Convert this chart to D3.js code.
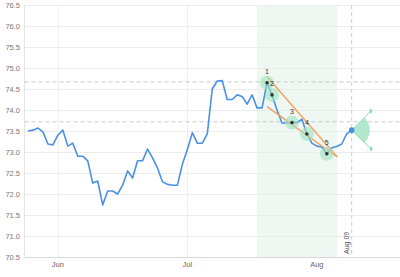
<!DOCTYPE html>
<html><head><meta charset="utf-8">
<script src="https://cdn.jsdelivr.net/npm/d3@7"></script>
<style>html,body{margin:0;padding:0;background:#fff;}svg{display:block;font-family:"Liberation Sans",Arial,sans-serif;}</style>
</head><body>
<svg id="c" width="400" height="277"></svg>
<script>
// ---- data ----
const values = [73.50,73.52,73.57,73.48,73.19,73.17,73.40,73.52,73.14,73.21,
72.90,72.90,72.79,72.26,72.31,71.74,72.07,72.07,72.00,72.21,
72.55,72.38,72.79,72.79,73.07,72.86,72.62,72.29,72.23,72.21,
72.21,72.71,73.06,73.46,73.21,73.21,73.43,74.50,74.69,74.70,
74.25,74.25,74.36,74.32,74.14,74.36,74.05,74.05,74.65,74.36,
74.00,73.69,73.69,73.70,73.70,73.78,73.43,73.21,73.14,73.12,
72.96,73.10,73.13,73.19,73.43,73.52];
const xTickIndex = [6, 32, 58];
const xTickLabels = ["Jun", "Jul", "Aug"];
const yTicks = [70.5,71.0,71.5,72.0,72.5,73.0,73.5,74.0,74.5,75.0,75.5,76.0,76.5];
const markerIndex = [48, 49, 53, 56, 60];
const markerLabels = ["1", "2", "3", "4", "5"];
const levelLines = [74.67, 73.72];
const bandRange = [46, 62.1];
const plotLineIndex = 65;
const plotLineLabel = "Aug 09";
const upperTrend = [[48, 74.79], [62.1, 72.88]];
const lowerTrend = [[48, 74.08], [62.1, 72.88]];

// ---- layout ----
const L = 24.5, R = 400, T = 5, B = 257;
const svg = d3.select("#c");
const x = d3.scaleLinear().domain([0, values.length - 1]).range([28, 351.7]);
const y = d3.scaleLinear().domain([70.5, 76.5]).range([B, T]);

// band
svg.append("rect").attr("x", x(bandRange[0])).attr("y", T)
  .attr("width", x(bandRange[1]) - x(bandRange[0])).attr("height", B - T)
  .attr("fill", "#eef7f2");

// horizontal grid
svg.append("g").selectAll("line").data(yTicks).join("line")
  .attr("x1", L).attr("x2", R).attr("y1", d => Math.round(y(d)) + 0.5).attr("y2", d => Math.round(y(d)) + 0.5)
  .attr("stroke", "#ececec").attr("stroke-width", 1);
// vertical grid
svg.append("g").selectAll("line").data(xTickIndex.slice(0, 2)).join("line")
  .attr("x1", d => Math.round(x(d)) + 0.5).attr("x2", d => Math.round(x(d)) + 0.5)
  .attr("y1", T).attr("y2", B).attr("stroke", "#efefef");

// axis lines
svg.append("line").attr("x1", L).attr("x2", L).attr("y1", T).attr("y2", B).attr("stroke", "#e4e4e4");
svg.append("line").attr("x1", L).attr("x2", R).attr("y1", B + 0.5).attr("y2", B + 0.5).attr("stroke", "#d8d8d8");

// y labels
svg.append("g").selectAll("text").data(yTicks).join("text")
  .attr("x", 20).attr("y", d => y(d) + 2.5).attr("text-anchor", "end")
  .attr("font-size", 7.5).attr("fill", "#777").text(d => d.toFixed(1));
// x labels
svg.append("g").selectAll("text").data(xTickIndex).join("text")
  .attr("x", d => x(d)).attr("y", 267).attr("text-anchor", "middle")
  .attr("font-size", 7.5).attr("fill", "#666").text((d, i) => xTickLabels[i]);

// level dashed lines
svg.append("g").selectAll("line").data(levelLines).join("line")
  .attr("x1", L).attr("x2", R).attr("y1", d => y(d)).attr("y2", d => y(d))
  .attr("stroke", "#c8c8c8").attr("stroke-dasharray", "4,3");

// plot line
svg.append("line").attr("x1", x(plotLineIndex)).attr("x2", x(plotLineIndex))
  .attr("y1", T).attr("y2", B).attr("stroke", "#cccccc").attr("stroke-dasharray", "4,3");
svg.append("text").attr("transform", `translate(${x(plotLineIndex) - 3},${B - 3}) rotate(-90)`)
  .attr("font-size", 7).attr("fill", "#555").text(plotLineLabel);

// marker halos
const mg = svg.append("g");
mg.selectAll("circle.h").data(markerIndex).join("circle").attr("class", "h")
  .attr("cx", d => x(d)).attr("cy", d => y(values[d])).attr("r", 7)
  .attr("fill", "#9fe3bf").attr("fill-opacity", 0.6);

// series line
svg.append("path").datum(values)
  .attr("d", d3.line().x((d, i) => x(i)).y(d => y(d)))
  .attr("fill", "none").attr("stroke", "#4a90e8").attr("stroke-width", 1.6).attr("stroke-linejoin", "round");

// trend lines
[upperTrend, lowerTrend].forEach(t => {
  svg.append("line").attr("x1", x(t[0][0])).attr("y1", y(t[0][1]))
    .attr("x2", x(t[1][0])).attr("y2", y(t[1][1]))
    .attr("stroke", "#f5a05a").attr("stroke-width", 1.4);
});

// marker dots + labels
mg.raise();
mg.selectAll("circle.d").data(markerIndex).join("circle").attr("class", "d")
  .attr("cx", d => x(d)).attr("cy", d => y(values[d])).attr("r", 1.8).attr("fill", "#333");
mg.selectAll("text").data(markerIndex).join("text")
  .attr("x", d => x(d)).attr("y", d => y(values[d]) - 9).attr("text-anchor", "middle")
  .attr("font-size", 7).attr("fill", "#333").text((d, i) => markerLabels[i]);

// fan at last point
const li = values.length - 1;
const cx = x(li), cy = y(values[li]);
const fan = svg.append("g").attr("transform", `translate(${cx},${cy})`);
fan.append("path").attr("d", d3.arc().innerRadius(0).outerRadius(18).startAngle(Math.PI / 4).endAngle(Math.PI * 3 / 4)())
  .attr("fill", "#9fe3bf").attr("fill-opacity", 0.8);
[-45, 44].forEach(a => {
  const r = 27, ex = r * Math.cos(a * Math.PI / 180), ey = r * Math.sin(a * Math.PI / 180);
  fan.append("line").attr("x1", 0).attr("y1", 0).attr("x2", ex).attr("y2", ey)
    .attr("stroke", "#8fdcb5").attr("stroke-width", 1);
  fan.append("path").attr("d", d3.symbol(d3.symbolDiamond, 10)())
    .attr("transform", `translate(${ex},${ey})`).attr("fill", "#8fdcb5");
});
svg.append("circle").attr("cx", cx).attr("cy", cy).attr("r", 2.8).attr("fill", "#4a90e8");
</script>
</body></html>
